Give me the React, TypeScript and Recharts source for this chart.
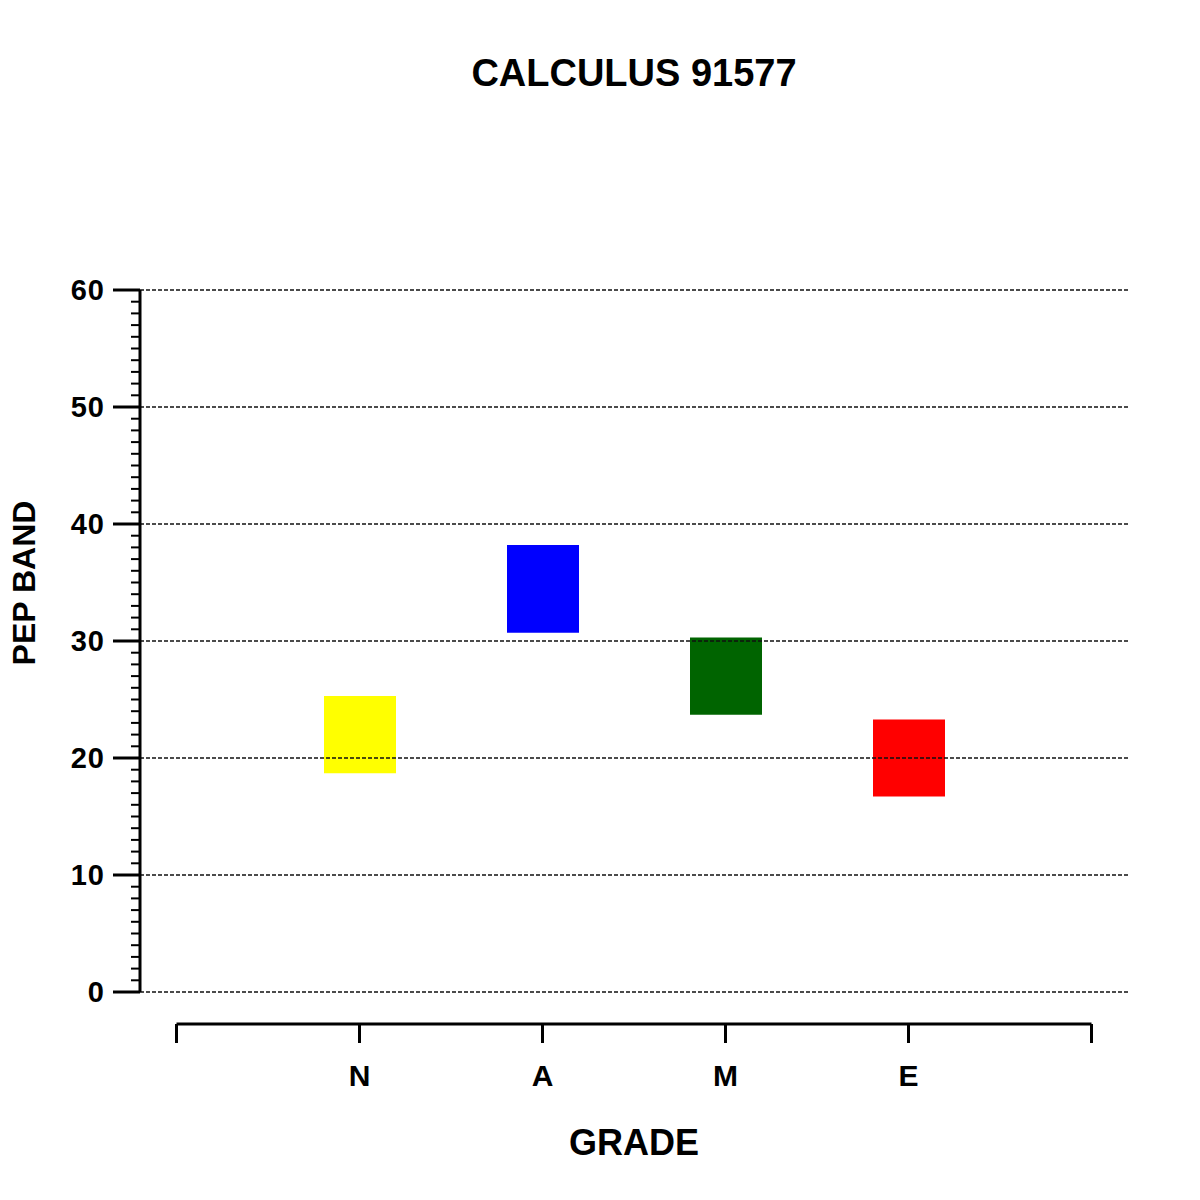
import React from 'react';
import { ComposedChart, Bar, XAxis, YAxis, ReferenceLine, Cell } from 'recharts';

const grades = ['N', 'A', 'M', 'E'];
const lows = [18.7, 30.7, 23.7, 16.7];
const highs = [25.3, 38.2, 30.3, 23.3];
const colors = ['#ffff00', '#0000ff', '#006400', '#ff0000'];
const majorTicks = [0, 10, 20, 30, 40, 50, 60];
const allTicks = Array.from({ length: 61 }, (_, i) => i);

const data = grades.map((g, i) => ({ grade: g, range: [lows[i], highs[i]] }));

const W = 1184;
const H = 1184;
const PLOT_LEFT = 132;
const PLOT_RIGHT = 1120;
const PLOT_TOP = 282;
const PLOT_BOTTOM = 984;
const PAD = 128;
const STEP = (PLOT_RIGHT - PLOT_LEFT - 2 * PAD) / grades.length;
const XLINE_Y = 1016;
const FONT = '"Liberation Sans", Arial, Helvetica, sans-serif';

const YTick = (props: any) => {
  const { y, payload } = props;
  const v = payload.value;
  const major = v % 10 === 0;
  return (
    <g>
      <line
        x1={major ? PLOT_LEFT - 27 : PLOT_LEFT - 9}
        x2={PLOT_LEFT}
        y1={y}
        y2={y}
        stroke="#000"
        strokeWidth={major ? 3 : 2}
      />
      {major && (
        <text
          x={PLOT_LEFT - 35}
          y={y}
          dy="0.36em"
          textAnchor="end"
          fontFamily={FONT}
          fontWeight="bold"
          fontSize={29}
          letterSpacing={1}
          fill="#000"
        >
          {v}
        </text>
      )}
    </g>
  );
};

const XTick = (props: any) => {
  const { x, payload, index } = props;
  return (
    <g>
      {index === 0 && (
        <g>
          <line x1={x - STEP} x2={x + grades.length * STEP} y1={XLINE_Y} y2={XLINE_Y} stroke="#000" strokeWidth={3} />
          <line x1={x - STEP} x2={x - STEP} y1={XLINE_Y} y2={XLINE_Y + 19} stroke="#000" strokeWidth={3} />
          <line
            x1={x + grades.length * STEP}
            x2={x + grades.length * STEP}
            y1={XLINE_Y}
            y2={XLINE_Y + 19}
            stroke="#000"
            strokeWidth={3}
          />
        </g>
      )}
      <line x1={x} x2={x} y1={XLINE_Y} y2={XLINE_Y + 19} stroke="#000" strokeWidth={3} />
      <text
        x={x}
        y={1078}
        textAnchor="middle"
        fontFamily={FONT}
        fontWeight="bold"
        fontSize={30}
        fill="#000"
      >
        {payload.value}
      </text>
    </g>
  );
};

export default function App() {
  return (
    <div style={{ position: 'relative', width: W, height: H }}>
      <ComposedChart
        width={W}
        height={H}
        data={data}
        margin={{ top: PLOT_TOP, right: W - PLOT_RIGHT, left: 0, bottom: H - PLOT_BOTTOM - 100 }}
      >
        <XAxis
          dataKey="grade"
          type="category"
          padding={{ left: PAD, right: PAD }}
          axisLine={false}
          tickLine={false}
          tickSize={0}
          tickMargin={0}
          height={100}
          interval={0}
          tick={<XTick />}
        />
        <YAxis
          type="number"
          domain={[0, 60]}
          ticks={allTicks}
          interval={0}
          width={PLOT_LEFT}
          axisLine={{ stroke: '#000', strokeWidth: 3 }}
          tickLine={false}
          tick={<YTick />}
        />
        <Bar dataKey="range" barSize={72} isAnimationActive={false}>
          {data.map((d, i) => (
            <Cell key={d.grade} fill={colors[i]} />
          ))}
        </Bar>
        {majorTicks.map((t) => (
          <ReferenceLine key={t} y={t} stroke="#111" strokeDasharray="4 2" strokeWidth={1.3} />
        ))}
      </ComposedChart>
      <svg
        width={W}
        height={H}
        style={{ position: 'absolute', left: 0, top: 0, pointerEvents: 'none', overflow: 'visible' }}
      >
        <text x={626} y={78} textAnchor="middle" fontFamily={FONT} fontWeight="bold" fontSize={38} fill="#000">
          CALCULUS 91577
        </text>
        <text x={626} y={1147} textAnchor="middle" fontFamily={FONT} fontWeight="bold" fontSize={36} fill="#000">
          GRADE
        </text>
        <text
          x={27}
          y={575}
          transform="rotate(-90, 27, 575)"
          textAnchor="middle"
          fontFamily={FONT}
          fontWeight="bold"
          fontSize={32}
          fill="#000"
        >
          PEP BAND
        </text>
      </svg>
    </div>
  );
}
